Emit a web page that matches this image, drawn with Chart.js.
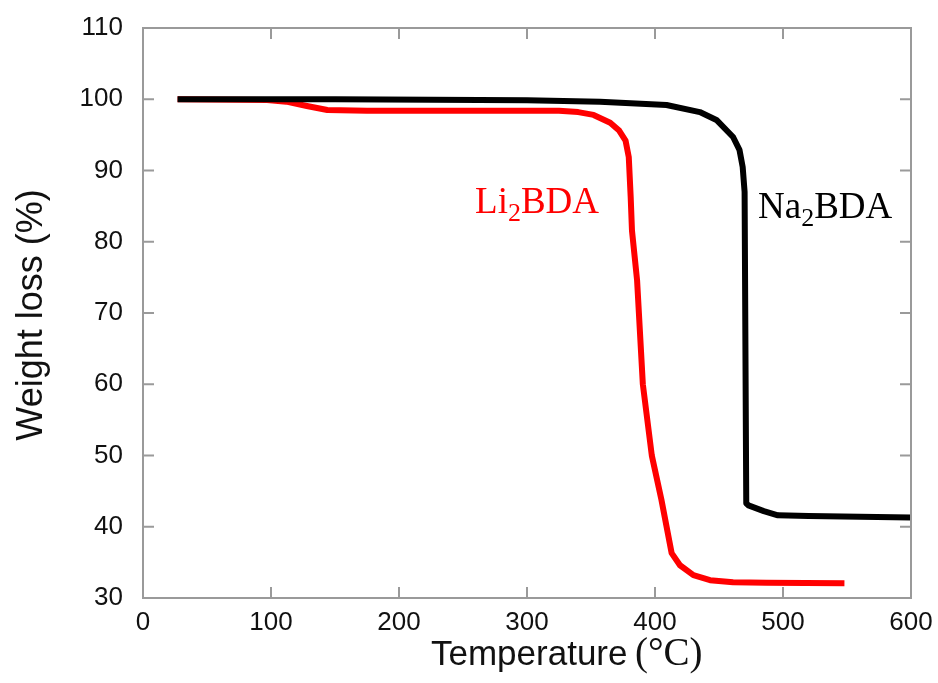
<!DOCTYPE html>
<html>
<head>
<meta charset="utf-8">
<script src="https://cdn.jsdelivr.net/npm/chart.js@4"></script>
<style>
  body { margin: 0; background: #fff; }
</style>
</head>
<body>
<canvas id="chart_tga" width="938" height="683"></canvas>
<script>
// TGA curves: [temperature (°C), weight (%)]
const na2bdaTemp = [27, 150, 300, 357, 409, 435, 448, 461, 466, 468.5, 470, 471.3, 473, 485, 496, 520, 600];
const na2bdaWeight = [100, 100, 99.85, 99.66, 99.2, 98.2, 97.1, 94.7, 92.9, 90.5, 87, 43.3, 43, 42.2, 41.6, 41.5, 41.3];

const li2bdaTemp = [27, 97, 112, 128, 144, 175, 250, 325, 340, 352, 365, 372, 377, 379.5, 381, 382, 386, 390.5, 397.5, 405, 413, 419.5, 430, 443, 461, 487, 548];
const li2bdaWeight = [100, 99.9, 99.66, 99.05, 98.5, 98.4, 98.4, 98.4, 98.2, 97.8, 96.7, 95.6, 94.2, 91.9, 86.3, 81.6, 74.6, 60, 50, 43.8, 36.3, 34.6, 33.2, 32.5, 32.2, 32.15, 32.06];

const xTicks = [0, 100, 200, 300, 400, 500, 600];
const yTicks = [30, 40, 50, 60, 70, 80, 90, 100, 110];

const toPoints = (xs, ys) => xs.map((x, i) => ({ x: x, y: ys[i] }));

// frame, inward ticks on all four sides, axis titles and curve labels
const framePlugin = {
    id: 'frame',
    afterDraw(chart) {
        const ctx = chart.ctx;
        const a = chart.chartArea;
        const xs = chart.scales.x;
        const ys = chart.scales.y;
        ctx.save();
        ctx.strokeStyle = '#9a9a9a';
        ctx.lineWidth = 2;
        ctx.strokeRect(a.left, a.top, a.right - a.left, a.bottom - a.top);
        ctx.beginPath();
        xTicks.slice(1, -1).forEach(v => {
            const px = xs.getPixelForValue(v);
            ctx.moveTo(px, a.bottom); ctx.lineTo(px, a.bottom - 11);
            ctx.moveTo(px, a.top); ctx.lineTo(px, a.top + 11);
        });
        yTicks.slice(1, -1).forEach(v => {
            const py = ys.getPixelForValue(v);
            ctx.moveTo(a.left, py); ctx.lineTo(a.left + 11, py);
            ctx.moveTo(a.right, py); ctx.lineTo(a.right - 11, py);
        });
        ctx.stroke();

        // axis titles
        ctx.fillStyle = '#111';
        ctx.textBaseline = 'alphabetic';
        ctx.textAlign = 'left';
        ctx.font = '35px "Liberation Sans"';
        ctx.fillText('Temperature', 431, 665);
        ctx.font = '39px "Liberation Serif"';
        ctx.fillText('(°C)', 635, 665);

        ctx.save();
        ctx.translate(32, (a.top + a.bottom) / 2 + 2);
        ctx.rotate(-Math.PI / 2);
        ctx.textAlign = 'center';
        ctx.textBaseline = 'middle';
        ctx.font = '36px "Liberation Sans"';
        ctx.fillText('Weight loss (%)', 0, 0);
        ctx.restore();

        // curve labels with subscript
        const label = (x, y, a1, sub, a2, color) => {
            let px = xs.getPixelForValue(x);
            const py = ys.getPixelForValue(y);
            ctx.fillStyle = color;
            ctx.textAlign = 'left';
            ctx.textBaseline = 'alphabetic';
            ctx.font = '37px "Liberation Serif"';
            ctx.fillText(a1, px, py);
            px += ctx.measureText(a1).width;
            ctx.font = '26px "Liberation Serif"';
            ctx.fillText(sub, px, py + 8);
            px += ctx.measureText(sub).width;
            ctx.font = '37px "Liberation Serif"';
            ctx.fillText(a2, px, py);
        };
        label(259.4, 84.0, 'Li', '2', 'BDA', '#ff0000');
        label(480.5, 83.3, 'Na', '2', 'BDA', '#000000');
        ctx.restore();
    }
};

new Chart(
    document.getElementById('chart_tga'),
    {
        type: 'scatter',
        data: {
            datasets: [
                {
                    label: 'Na2BDA',
                    data: toPoints(na2bdaTemp, na2bdaWeight),
                    showLine: true,
                    borderColor: '#000000',
                    borderWidth: 6,
                    borderJoinStyle: 'round',
                    pointRadius: 0,
                    tension: 0
                },
                {
                    label: 'Li2BDA',
                    data: toPoints(li2bdaTemp, li2bdaWeight),
                    showLine: true,
                    borderColor: '#ff0000',
                    borderWidth: 6,
                    borderJoinStyle: 'round',
                    pointRadius: 0,
                    tension: 0
                }
            ]
        },
        options: {
            responsive: false,
            animation: false,
            layout: { padding: { top: 28, right: 27, left: 0, bottom: 0 } },
            plugins: {
                legend: { display: false },
                tooltip: { enabled: false }
            },
            scales: {
                x: {
                    type: 'linear',
                    min: 0,
                    max: 600,
                    afterBuildTicks: s => { s.ticks = xTicks.map(v => ({ value: v })); },
                    afterFit: s => { s.height = 85; s.paddingLeft = 0; s.paddingRight = 0; },
                    grid: { display: false, drawTicks: false },
                    border: { display: false },
                    ticks: {
                        padding: 9,
                        color: '#111',
                        font: { family: 'Liberation Sans', size: 26 },
                        maxRotation: 0
                    }
                },
                y: {
                    type: 'linear',
                    min: 30,
                    max: 110,
                    afterBuildTicks: s => { s.ticks = yTicks.map(v => ({ value: v })); },
                    afterFit: s => { s.width = 143; s.paddingTop = 0; s.paddingBottom = 0; },
                    grid: { display: false, drawTicks: false },
                    border: { display: false },
                    ticks: {
                        padding: 20,
                        color: '#111',
                        font: { family: 'Liberation Sans', size: 26 }
                    }
                }
            }
        },
        plugins: [framePlugin]
    }
);
</script>
</body>
</html>
